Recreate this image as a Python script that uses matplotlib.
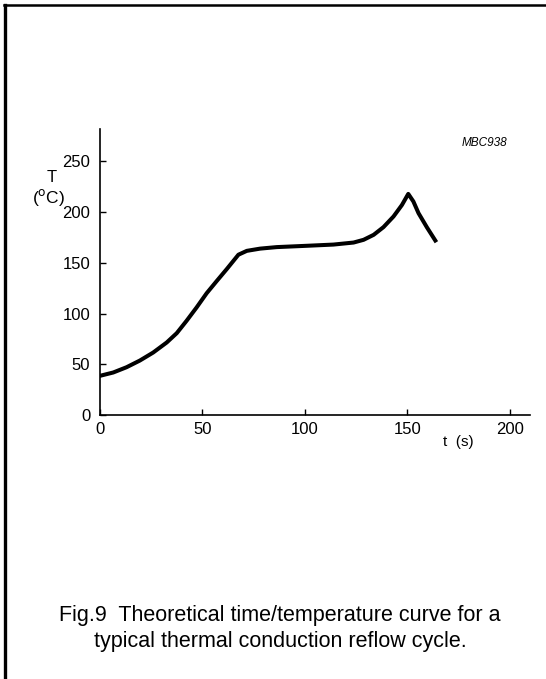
import matplotlib
matplotlib.use("Agg")
import matplotlib.pyplot as plt
from matplotlib.lines import Line2D

plt.rcParams['font.family'] = ['Liberation Sans', 'DejaVu Sans']

# curva de temperatura (t en s, T en grados C)
tiempo = [0, 6.5, 13, 19.5, 26, 32.6, 37.5, 42.3, 47.2, 52.1, 57, 61.9, 67.6, 71.7, 78.2,
          86.3, 101, 114, 123.8, 128.7, 133.6, 138.4, 143.3, 147.4, 150.5, 153, 155.5, 159.6, 163.7]
temperatura = [38.5, 41.8, 47, 53.6, 61.5, 71.4, 80.6, 92.8, 106, 120, 132, 143.8, 158, 161.8, 164,
               165.5, 166.8, 168, 170, 172.7, 177.6, 185.2, 195.7, 207, 218, 210.5, 199, 185, 172]
ticks_x = [0, 50, 100, 150, 200]
ticks_y = [0, 50, 100, 150, 200, 250]

fig = plt.figure(figsize=(5.46, 6.79), dpi=100)
ax = fig.add_axes([0.183, 0.389, 0.788, 0.421])

ax.plot(tiempo, temperatura, color="black", linewidth=2.9, solid_joinstyle="round")

ax.set_xlim(0, 210)
ax.set_ylim(0, 282)
ax.set_xticks(ticks_x)
ax.set_yticks(ticks_y)
ax.spines["top"].set_visible(False)
ax.spines["right"].set_visible(False)
ax.spines["left"].set_linewidth(1.2)
ax.spines["bottom"].set_linewidth(1.2)
ax.tick_params(direction="in", length=4, width=1, labelsize=12, pad=7)
ax.tick_params(axis="x", pad=5)

# etiquetas de los ejes
fig.text(52 / 546, 1 - 177 / 679, "T", ha="center", va="center", fontsize=12)
fig.text(49 / 546, 1 - 197 / 679, "($^{\\rm o}$C)", ha="center", va="center", fontsize=12.5)
fig.text(458 / 546, 1 - 442 / 679, "t  (s)", ha="center", va="center", fontsize=11)
fig.text(507 / 546, 1 - 143 / 679, "MBC938", ha="right", va="center", fontsize=8.5, style="italic")

# pie de figura
fig.text(280 / 546, 1 - 615 / 679, "Fig.9  Theoretical time/temperature curve for a",
         ha="center", va="center", fontsize=15.5)
fig.text(280 / 546, 1 - 641 / 679, "typical thermal conduction reflow cycle.",
         ha="center", va="center", fontsize=15.5)

# marco de la pagina
fig.add_artist(Line2D([5 / 546, 5 / 546], [0, 1 - 5 / 679], transform=fig.transFigure,
                      color="black", linewidth=2.4))
fig.add_artist(Line2D([4 / 546, 1], [1 - 5 / 679, 1 - 5 / 679], transform=fig.transFigure,
                      color="black", linewidth=1.8))

fig.savefig("out.png", dpi=100)
